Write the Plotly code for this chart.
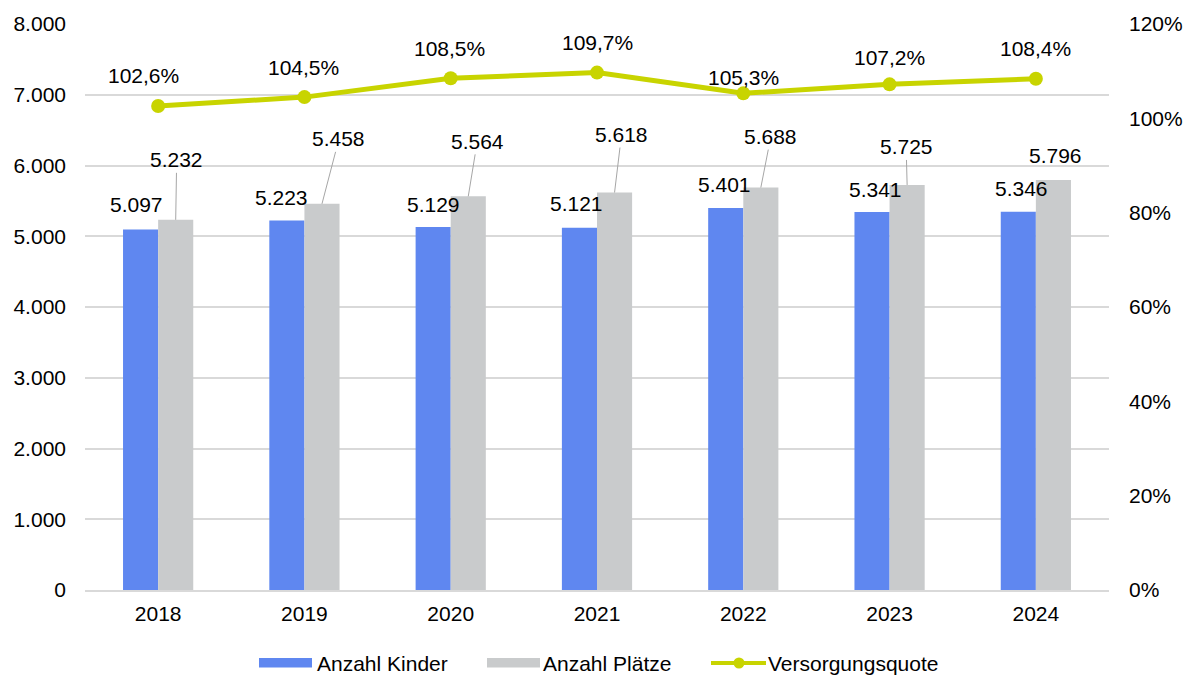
import plotly.graph_objects as go

years = ["2018", "2019", "2020", "2021", "2022", "2023", "2024"]
kinder = [5097, 5223, 5129, 5121, 5401, 5341, 5346]
plaetze = [5232, 5458, 5564, 5618, 5688, 5725, 5796]
quote = [102.6, 104.5, 108.5, 109.7, 105.3, 107.2, 108.4]
series_names = ["Anzahl Kinder", "Anzahl Plätze", "Versorgungsquote"]

left_ticks = [0, 1000, 2000, 3000, 4000, 5000, 6000, 7000, 8000]
left_labels = ["0", "1.000", "2.000", "3.000", "4.000", "5.000", "6.000", "7.000", "8.000"]
right_ticks = [0, 20, 40, 60, 80, 100, 120]
right_labels = ["0%", "20%", "40%", "60%", "80%", "100%", "120%"]

BLUE = "#5f87f0"
GRAY = "#c9cbcc"
LINE = "#c8d400"
FONT = "Liberation Sans, Arial, sans-serif"
FS = 21

W, H = 1184, 675
ML, MR, MT, MB = 85, 75, 24, 85
PW, PH = W - ML - MR, H - MT - MB


def px(xp):
    return (xp - ML) / PW


def py(yp):
    return (H - MB - yp) / PH


def de_num(v):
    return f"{v:,}".replace(",", ".")


def de_pct(v):
    return f"{v:.1f}".replace(".", ",") + "%"


xi = list(range(len(years)))

fig = go.Figure()
fig.add_trace(go.Bar(x=xi, y=kinder, name=series_names[0], marker=dict(color=BLUE, line=dict(width=0)),
                     offsetgroup="a"))
fig.add_trace(go.Bar(x=xi, y=plaetze, name=series_names[1], marker=dict(color=GRAY, line=dict(width=0)),
                     offsetgroup="b"))
fig.add_trace(go.Scatter(x=xi, y=quote, name=series_names[2], yaxis="y2", mode="lines+markers",
                         line=dict(color=LINE, width=5), marker=dict(color=LINE, size=14)))

annotations = []
# blue labels
blue_shift = [(-4, 25), (-5, 23), (0, 23), (-3, 24), (-1, 23), (3, 23), (3, 23)]
for i, v in enumerate(kinder):
    dx, dy = blue_shift[i]
    annotations.append(dict(x=i - 0.12, y=v, xref="x", yref="y", text=de_num(v), showarrow=False,
                            xshift=dx, yshift=dy, font=dict(size=FS, color="#000", family=FONT)))
# gray labels with leader lines
gray_off = [(1, -60), (17, -65), (9, -55), (7, -58), (10, -51), (-1, -38), (2, -24)]
for i, v in enumerate(plaetze):
    ax, ay = gray_off[i]
    if i == len(plaetze) - 1:
        annotations.append(dict(x=i + 0.12, y=v, xref="x", yref="y", text=de_num(v), showarrow=False,
                                xshift=ax, yshift=-ay, font=dict(size=FS, color="#000", family=FONT)))
    else:
        annotations.append(dict(x=i + 0.12, y=v, xref="x", yref="y", text=de_num(v), showarrow=True,
                                arrowhead=0, arrowwidth=1, arrowcolor="#a6a6a6", ax=ax, ay=ay,
                                standoff=0, startstandoff=0,
                                font=dict(size=FS, color="#000", family=FONT)))
# line labels
line_shift = [(-15, 31), (-1, 30), (-1, 30), (0, 30), (0, 16), (0, 27), (0, 30)]
for i, v in enumerate(quote):
    dx, dy = line_shift[i]
    annotations.append(dict(x=i, y=v, xref="x", yref="y2", text=de_pct(v), showarrow=False,
                            xshift=dx, yshift=dy, font=dict(size=FS, color="#000", family=FONT)))

# custom legend (wide swatches as in the reference)
shapes = []
LY = 663
shapes.append(dict(type="rect", xref="paper", yref="paper", x0=px(259), x1=px(312), y0=py(667.5), y1=py(658),
                    fillcolor=BLUE, line=dict(width=0), layer="above"))
shapes.append(dict(type="rect", xref="paper", yref="paper", x0=px(487), x1=px(540), y0=py(667.5), y1=py(658),
                    fillcolor=GRAY, line=dict(width=0), layer="above"))
shapes.append(dict(type="line", xref="paper", yref="paper", x0=px(711), x1=px(766), y0=py(LY), y1=py(LY),
                    line=dict(color=LINE, width=4), layer="above"))
shapes.append(dict(type="circle", xref="paper", yref="paper", x0=px(733.5), x1=px(744.5),
                    y0=py(LY + 5.5), y1=py(LY - 5.5), fillcolor=LINE, line=dict(width=0), layer="above"))
for name, xs in zip(series_names, [315, 541, 766]):
    annotations.append(dict(x=px(xs), y=py(LY), xref="paper", yref="paper", text=name, showarrow=False,
                            xanchor="left", yanchor="middle", font=dict(size=FS, color="#000", family=FONT)))

fig.update_layout(
    width=W, height=H,
    margin=dict(l=ML, r=MR, t=MT, b=MB, autoexpand=False),
    paper_bgcolor="white", plot_bgcolor="white",
    font=dict(family=FONT, size=FS, color="#000"),
    barmode="group", bargap=0.52, bargroupgap=0,
    xaxis=dict(tickmode="array", tickvals=xi, ticktext=years, range=[-0.5, 6.5],
               showgrid=False, showline=True, linecolor="#d9d9d9", linewidth=2, ticks="",
               zeroline=False, tickfont=dict(size=FS), automargin=False, ticklabelstandoff=4),
    yaxis=dict(range=[0, 8000], tickvals=left_ticks, ticktext=left_labels, showgrid=True,
               gridcolor="#d9d9d9", gridwidth=2, zeroline=False, showline=False, ticks="",
               tickfont=dict(size=FS), ticklabelstandoff=18, automargin=False),
    yaxis2=dict(range=[0, 120], tickvals=right_ticks, ticktext=right_labels, overlaying="y",
                side="right", showgrid=False, zeroline=False, showline=False, ticks="",
                tickfont=dict(size=FS), ticklabelstandoff=19, automargin=False),
    annotations=annotations,
    shapes=shapes,
    showlegend=False,
)

fig.write_html("out.html", config={"displayModeBar": False},
               post_script="document.body.style.margin='0';document.body.style.padding='0';")
